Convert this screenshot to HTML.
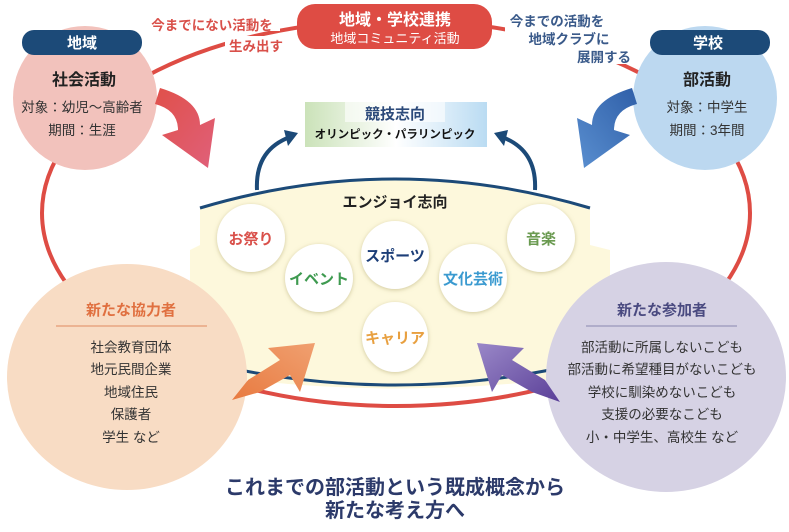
<!DOCTYPE html>
<html><head><meta charset="utf-8"><style>
body{margin:0;background:#fff;}
svg text{font-family:"Liberation Sans","Noto Sans CJK JP",sans-serif;}
</style></head><body>
<svg width="789" height="527" viewBox="0 0 789 527" xmlns="http://www.w3.org/2000/svg">
<defs>
<linearGradient id="gband" x1="0" x2="1"><stop offset="0" stop-color="#a8cf8a"/><stop offset="0.5" stop-color="#ffffff"/><stop offset="1" stop-color="#8cc4ea"/></linearGradient>
<linearGradient id="gred" x1="0" y1="0" x2="1" y2="1"><stop offset="0" stop-color="#e0504a"/><stop offset="1" stop-color="#e0607a"/></linearGradient>
<linearGradient id="gblue" x1="1" y1="0" x2="0" y2="1"><stop offset="0" stop-color="#2f5fa8"/><stop offset="1" stop-color="#5a8fd0"/></linearGradient>
<linearGradient id="gor" x1="0" y1="1" x2="1" y2="0"><stop offset="0" stop-color="#e87a40"/><stop offset="1" stop-color="#f0a070"/></linearGradient>
<linearGradient id="gpu" x1="1" y1="1" x2="0" y2="0"><stop offset="0" stop-color="#5a3f98"/><stop offset="1" stop-color="#9a88c8"/></linearGradient>
<filter id="sh" x="-20%" y="-20%" width="140%" height="140%"><feDropShadow dx="0" dy="1" stdDeviation="2" flood-color="#b0a870" flood-opacity="0.6"/></filter>
</defs>
<ellipse cx="396" cy="213" rx="354" ry="193" fill="none" stroke="#de4c44" stroke-width="4"/>
<path d="M200,208 Q395,150 590,208 L590,245 L610,250 L610,372 Q395,405 190,372 L190,250 L200,245 Z" fill="#fdf8dc"/>
<path d="M200,208 Q395,150 590,208" fill="none" stroke="#1c4a78" stroke-width="3"/>
<path d="M240,370 Q395,400 550,370" fill="none" stroke="#1c4a78" stroke-width="3"/>
<path d="M257,190 Q255,150 290,137" fill="none" stroke="#1c4a78" stroke-width="4"/>
<polygon points="298,133 284,130 288,146" fill="#1c4a78"/>
<path d="M535,190 Q537,150 502,137" fill="none" stroke="#1c4a78" stroke-width="4"/>
<polygon points="494,133 508,130 504,146" fill="#1c4a78"/>
<rect x="305" y="102" width="182" height="45" fill="url(#gband)" opacity="0.6"/>
<rect x="345" y="100" width="100" height="22" fill="#fff" opacity="0.6"/>
<text x="395" y="119" text-anchor="middle" font-size="15" font-weight="bold" fill="#2c4a7a">競技志向</text>
<text x="395" y="138" text-anchor="middle" font-size="11.5" font-weight="bold" fill="#111">オリンピック・パラリンピック</text>
<text x="395" y="207" text-anchor="middle" font-size="15" font-weight="bold" fill="#222">エンジョイ志向</text>
<g filter="url(#sh)" fill="#fff">
<circle cx="251" cy="238" r="34"/><circle cx="319" cy="278" r="34"/><circle cx="395" cy="255" r="34"/>
<circle cx="473" cy="278" r="34"/><circle cx="541" cy="238" r="34"/><ellipse cx="395" cy="337" rx="33" ry="35"/>
</g>
<text x="251" y="244" text-anchor="middle" font-size="15" font-weight="bold" fill="#d9504a">お祭り</text>
<text x="319" y="284" text-anchor="middle" font-size="15" font-weight="bold" fill="#3e9a50">イベント</text>
<text x="395" y="261" text-anchor="middle" font-size="15" font-weight="bold" fill="#1c3e78">スポーツ</text>
<text x="473" y="284" text-anchor="middle" font-size="15" font-weight="bold" fill="#3a9ad0">文化芸術</text>
<text x="541" y="244" text-anchor="middle" font-size="15" font-weight="bold" fill="#6a9a50">音楽</text>
<text x="395" y="343" text-anchor="middle" font-size="15" font-weight="bold" fill="#e8a040">キャリア</text>
<rect x="297" y="4" width="195" height="45" rx="18" fill="#de4c44"/>
<text x="395" y="25" text-anchor="middle" font-size="16" font-weight="bold" fill="#fff">地域・学校連携</text>
<text x="395" y="43" text-anchor="middle" font-size="13" fill="#fff">地域コミュニティ活動</text>
<rect x="140" y="13" width="140" height="18" fill="#fff"/>
<text x="212" y="30" text-anchor="middle" font-size="13.5" font-weight="bold" fill="#d9504a">今までにない活動を</text>
<rect x="225" y="36" width="62" height="18" fill="#fff"/>
<text x="256" y="51" text-anchor="middle" font-size="13.5" font-weight="bold" fill="#d9504a">生み出す</text>
<rect x="505" y="10" width="110" height="56" fill="#fff"/>
<rect x="570" y="46" width="75" height="18" fill="#fff"/>
<text x="557" y="26" text-anchor="middle" font-size="13.5" font-weight="bold" fill="#3a5a8a">今までの活動を</text>
<text x="569" y="44" text-anchor="middle" font-size="13.5" font-weight="bold" fill="#3a5a8a">地域クラブに</text>
<text x="604" y="62" text-anchor="middle" font-size="13.5" font-weight="bold" fill="#3a5a8a">展開する</text>
<circle cx="85" cy="98" r="72" fill="#f2c2bc"/>
<rect x="22" y="30" width="120" height="25" rx="12" fill="#1c4a78"/>
<text x="82" y="48" text-anchor="middle" font-size="15" font-weight="bold" fill="#fff">地域</text>
<text x="84" y="85" text-anchor="middle" font-size="16" font-weight="bold" fill="#222">社会活動</text>
<text x="82" y="112" text-anchor="middle" font-size="13.5" fill="#333">対象：幼児〜高齢者</text>
<text x="82" y="135" text-anchor="middle" font-size="13.5" fill="#333">期間：生涯</text>
<circle cx="705" cy="98" r="72" fill="#bcd8f0"/>
<rect x="650" y="30" width="120" height="25" rx="12" fill="#1c4a78"/>
<text x="708" y="48" text-anchor="middle" font-size="15" font-weight="bold" fill="#fff">学校</text>
<text x="707" y="85" text-anchor="middle" font-size="16" font-weight="bold" fill="#222">部活動</text>
<text x="707" y="112" text-anchor="middle" font-size="13.5" fill="#333">対象：中学生</text>
<text x="707" y="135" text-anchor="middle" font-size="13.5" fill="#333">期間：3年間</text>
<path d="M160,88 Q200,100 200,125 L215,118 L208,168 L162,135 L178,130 Q178,110 155,104 Z" fill="url(#gred)"/>
<path d="M632,88 Q592,100 592,125 L577,118 L584,168 L630,135 L614,130 Q614,110 637,104 Z" fill="url(#gblue)"/>
<ellipse cx="127" cy="377" rx="120" ry="113" fill="#f8dcc4"/>
<text x="131" y="315" text-anchor="middle" font-size="15" font-weight="bold" fill="#e07040">新たな協力者</text>
<line x1="56" y1="326" x2="207" y2="326" stroke="#e08a60" stroke-width="1"/>
<g font-size="13.5" fill="#333" text-anchor="middle">
<text x="131" y="352">社会教育団体</text><text x="131" y="374">地元民間企業</text><text x="131" y="397">地域住民</text><text x="131" y="419">保護者</text><text x="131" y="442">学生 など</text>
</g>
<ellipse cx="666" cy="377" rx="120" ry="115" fill="#d6d2e4"/>
<text x="662" y="315" text-anchor="middle" font-size="15" font-weight="bold" fill="#4a4a80">新たな参加者</text>
<line x1="586" y1="326" x2="737" y2="326" stroke="#8a88b0" stroke-width="1"/>
<g font-size="13.5" fill="#333" text-anchor="middle">
<text x="662" y="352">部活動に所属しないこども</text><text x="662" y="374">部活動に希望種目がないこども</text><text x="662" y="397">学校に馴染めないこども</text><text x="662" y="419">支援の必要なこども</text><text x="662" y="442">小・中学生、高校生 など</text>
</g>
<path d="M232,400 L248,380 L280,360 L268,348 L315,343 L300,392 L290,375 L260,392 Z" fill="url(#gor)"/>
<path d="M560,402 L545,380 L512,360 L524,348 L477,343 L492,392 L502,375 L532,392 Z" fill="url(#gpu)"/>
<text x="395" y="494" text-anchor="middle" font-size="20" font-weight="bold" fill="#2c3a6a">これまでの部活動という既成概念から</text>
<text x="395" y="517" text-anchor="middle" font-size="20" font-weight="bold" fill="#2c3a6a">新たな考え方へ</text>
</svg>
</body></html>
